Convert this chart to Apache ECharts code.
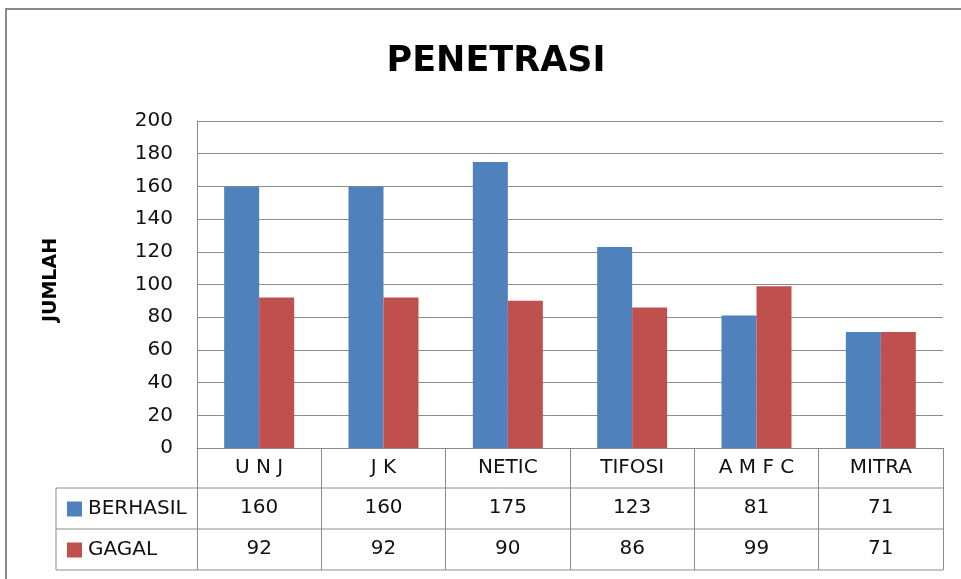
<!DOCTYPE html>
<html>
<head>
<meta charset="utf-8">
<script src="https://cdn.jsdelivr.net/npm/echarts@6/dist/echarts.min.js"></script>
<style>
html,body{margin:0;padding:0;background:#fff;}
#c{width:961px;height:579px;}
</style>
</head>
<body>
<div id="c"></div>
<script>
var titleText = "PENETRASI";
var yAxisName = "JUMLAH";
var categories = ["U N J", "J K", "NETIC", "TIFOSI", "A M F C", "MITRA"];
var seriesNames = ["BERHASIL", "GAGAL"];
var berhasil = [160, 160, 175, 123, 81, 71];
var gagal = [92, 92, 90, 86, 99, 71];
var colors = ["#4F81BD", "#C0504D"];
var yTicks = {min: 0, max: 200, interval: 20};

var FONT = "DejaVu Sans";
var GRID_COLOR = "#8c8c8c";
var gridLeft = 197, gridRight = 18, gridTop = 121, gridBottom = 131;
var W = 961, H = 579;
var plotBottom = H - gridBottom;   // 448
var plotRight = W - gridRight;     // 943
var rowH = [40, 41, 41];
var tableLeft = 56;

var chart = echarts.init(document.getElementById('c'), null, {renderer: 'canvas'});

function valueAxis(arr, offset) {
  return {
    type: 'category',
    data: arr.map(String),
    position: 'bottom',
    offset: offset,
    axisLine: {show: false},
    axisTick: {show: false},
    axisLabel: {fontFamily: FONT, fontSize: 20, color: '#111', margin: 20, verticalAlign: 'middle', interval: 0}
  };
}

var y1 = plotBottom + rowH[0];
var y2 = y1 + rowH[1];
var y3 = y2 + rowH[2];

var graphics = [
  {type: 'rect', shape: {x: 6, y: 9, width: 1000, height: 620}, style: {fill: 'none', stroke: '#8a8a8a', lineWidth: 2}, silent: true},
  {type: 'line', shape: {x1: tableLeft, y1: y1, x2: plotRight, y2: y1}, style: {stroke: GRID_COLOR, lineWidth: 1}},
  {type: 'line', shape: {x1: tableLeft, y1: y2, x2: plotRight, y2: y2}, style: {stroke: GRID_COLOR, lineWidth: 1}},
  {type: 'line', shape: {x1: tableLeft, y1: y3, x2: plotRight, y2: y3}, style: {stroke: GRID_COLOR, lineWidth: 1}},
  {type: 'line', shape: {x1: tableLeft, y1: y1, x2: tableLeft, y2: y3}, style: {stroke: GRID_COLOR, lineWidth: 1}}
];
seriesNames.forEach(function (nm, i) {
  var cy = (i === 0 ? (y1 + y2) / 2 : (y2 + y3) / 2);
  graphics.push({type: 'rect', shape: {x: 67, y: cy - 7, width: 15, height: 15}, style: {fill: colors[i]}});
  graphics.push({type: 'text', x: 88, y: cy, style: {text: nm, fontFamily: FONT, fontSize: 20, fill: '#111', textVerticalAlign: 'middle', verticalAlign: 'middle'}});
});

chart.setOption({
  animation: false,
  backgroundColor: '#fff',
  title: {
    text: titleText,
    left: 491,
    textAlign: 'center',
    top: 39,
    textStyle: {fontFamily: FONT, fontSize: 35, fontWeight: 'bold', color: '#000'}
  },
  grid: {left: gridLeft, right: gridRight, top: gridTop, bottom: gridBottom, containLabel: false},
  xAxis: [
    {
      type: 'category',
      data: categories,
      position: 'bottom',
      axisLine: {show: true, lineStyle: {color: GRID_COLOR, width: 1}},
      axisTick: {show: true, length: rowH[0] + rowH[1] + rowH[2], interval: 0, lineStyle: {color: GRID_COLOR, width: 1}},
      axisLabel: {fontFamily: FONT, fontSize: 20, color: '#111', margin: 20, verticalAlign: 'middle', interval: 0}
    },
    valueAxis(berhasil, rowH[0]),
    valueAxis(gagal, rowH[0] + rowH[1])
  ],
  yAxis: {
    type: 'value',
    min: yTicks.min, max: yTicks.max, interval: yTicks.interval,
    name: yAxisName,
    nameLocation: 'middle',
    nameRotate: 90,
    nameGap: 136,
    nameTextStyle: {fontFamily: FONT, fontSize: 19, fontWeight: 'bold', color: '#000', padding: [0, 0, 0, 9]},
    axisLine: {show: true, lineStyle: {color: GRID_COLOR, width: 1}},
    axisTick: {show: false},
    axisLabel: {fontFamily: FONT, fontSize: 20, color: '#111', margin: 24},
    splitLine: {show: true, lineStyle: {color: GRID_COLOR, width: 1}}
  },
  series: [
    {name: seriesNames[0], type: 'bar', data: berhasil, xAxisIndex: 0, barWidth: 35, barGap: '0%', itemStyle: {color: colors[0]}},
    {name: seriesNames[1], type: 'bar', data: gagal, xAxisIndex: 0, barWidth: 35, barGap: '0%', itemStyle: {color: colors[1]}}
  ],
  graphic: graphics
});
</script>
</body>
</html>
